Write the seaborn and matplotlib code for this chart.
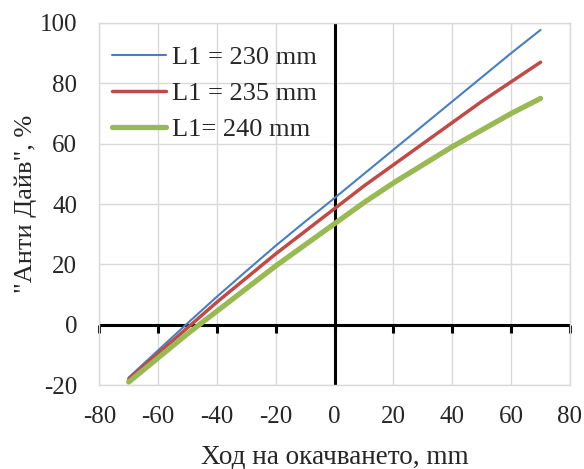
import numpy as np
import pandas as pd
import matplotlib
matplotlib.use('Agg')
import matplotlib.pyplot as plt
import seaborn as sns

# stroke (mm) and anti-dive (%) for the three L1 lengths
stroke = [-70, -60, -50, -40, -30, -20, -10, 0, 10, 20, 30, 40, 50, 60, 70]
ad_230 = [-17.5, -8.5, 0.5, 9.3, 17.8, 26.2, 34.2, 42, 50, 58, 66, 74, 82, 90, 97.7]
ad_235 = [-18, -9.5, -1, 7.5, 15.5, 23.5, 31, 38.5, 46, 53, 60, 67, 74, 80.5, 87]
ad_240 = [-19, -11, -3, 4.5, 12, 19.5, 26.5, 33.5, 40.5, 47, 53, 59, 64.5, 70, 75]
labels = ['L1 = 230 mm', 'L1 = 235 mm', 'L1= 240 mm']
colors = ['#4a7ebb', '#be4b48', '#98b954']
widths = [1.5, 2.5, 3.8]
xticks = np.arange(-80, 81, 20)

sns.set_style('white')
plt.rcParams['font.family'] = ['Liberation Serif', 'DejaVu Serif']
plt.rcParams['axes.unicode_minus'] = False

fig = plt.figure(figsize=(5.84, 4.69), dpi=100)
ax = fig.add_axes([0.170, 0.179, 0.806, 0.772])

for vals, lab, c, w in zip([ad_230, ad_235, ad_240], labels, colors, widths):
    df = pd.DataFrame({'x': stroke, 'y': vals})
    sns.lineplot(data=df, x='x', y='y', ax=ax, color=c, linewidth=w,
                 label=lab, solid_capstyle='round')

ax.set_xlim(-80, 80)
ax.set_ylim(-20, 100)
ax.set_xticks(xticks)
ax.set_yticks(np.arange(-20, 101, 20))
ax.grid(True, color='#d9d9d9', linewidth=1)
ax.set_axisbelow(True)
for s in ax.spines.values():
    s.set_color('#d9d9d9')
    s.set_linewidth(1)
ax.tick_params(axis='both', length=0, labelsize=18)
ax.tick_params(axis='x', pad=15)
ax.tick_params(axis='y', pad=16)

# zero axes drawn in black, with tick marks hanging under the x zero line
ax.axvline(0, color='black', linewidth=2.2, zorder=1.5)
ax.axhline(0, color='black', linewidth=2.2, zorder=1.5)
ax.plot(xticks, np.zeros_like(xticks), linestyle='none', marker=3,
        markersize=6, markeredgewidth=2.2, color='black', zorder=1.5,
        clip_on=False)

ax.set_xlabel('Ход на окачването, mm', fontsize=19.5, labelpad=12)
ax.set_ylabel('"Анти Дайв", %', fontsize=19, labelpad=2)

leg = ax.legend(loc='upper left', bbox_to_anchor=(0.004, 0.967), frameon=False,
                fontsize=19, handlelength=2.05, handletextpad=0.25,
                labelspacing=0.48, borderaxespad=0, borderpad=0.4)

fig.savefig('out.png', dpi=100)
